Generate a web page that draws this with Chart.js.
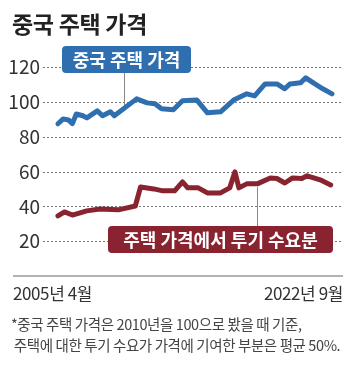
<!DOCTYPE html>
<html>
<head>
<meta charset="utf-8">
<script src="https://cdn.jsdelivr.net/npm/chart.js@4"></script>
<style>
  html, body { margin: 0; padding: 0; background: #fff; }
  #wrap { position: relative; width: 354px; height: 391px; overflow: hidden; }
  #myChart { position: absolute; left: 0; top: 0; }
  .txt { position: absolute; white-space: nowrap; color: #333;
         font-family: "Liberation Sans Narrow", "Noto Sans CJK KR", sans-serif; }
  #title { left: 12px; top: 6px; font: bold 23px "Noto Sans CJK KR", sans-serif; color: #222; letter-spacing: -0.3px; }
  #xl { left: 13px; top: 280px; font-size: 17px; letter-spacing: -0.4px; }
  #xr { right: 11px; top: 280px; font-size: 17px; letter-spacing: -0.4px; }
  #note { left: 11px; top: 313px; font-size: 14.5px; line-height: 21px; color: #444; letter-spacing: -0.4px; }
</style>
</head>
<body>
<div id="wrap">
  <canvas id="myChart" width="354" height="391"></canvas>
  <div class="txt" id="title">중국 주택 가격</div>
  <div class="txt" id="xl">2005년 4월</div>
  <div class="txt" id="xr">2022년 9월</div>
  <div class="txt" id="note">*중국 주택 가격은 2010년을 100으로 봤을 때 기준,<br>&nbsp;주택에 대한 투기 수요가 가격에 기여한 부분은 평균 50%.</div>
</div>
<script>
// months counted from 2005-04 (0) to 2022-09 (209)
var priceMonths = [0, 4, 8, 11, 14, 19, 22, 30, 34, 40, 43, 60, 68, 74, 79, 88, 95, 106, 114, 124, 134, 144, 150, 158, 167, 173, 177, 185, 189, 196, 202, 209];
var priceValues = [87.4, 90.2, 89.6, 87.5, 93, 92, 90.8, 94.8, 92, 94.3, 92, 101.7, 99.4, 98.9, 96, 95.4, 100.6, 101, 93.7, 94.3, 101, 104.6, 103.4, 110.3, 110.3, 107.5, 110.3, 110.9, 113.8, 110.3, 107.5, 104.6];

var specMonths = [0, 5, 11, 22, 32, 46, 59, 63, 73, 80, 89, 95, 99, 107, 114, 124, 131, 135, 138, 144, 152, 162, 167, 173, 179, 186, 190, 200, 208];
var specValues = [34.5, 36.8, 35, 37.4, 38.5, 38, 40.2, 51.1, 50, 48.9, 48.9, 54, 50.6, 50.6, 47.7, 47.7, 50.6, 59.8, 50.6, 52.9, 52.9, 56.3, 56, 53.4, 56.3, 56, 57.5, 55.2, 52.3];

var yTicks = [20, 40, 60, 80, 100, 120];
var seriesNames = ['중국 주택 가격', '주택 가격에서 투기 수요분'];

var blue = '#2f6fb0';
var red = '#8a2330';

function toPoints(xs, ys) {
  var pts = [];
  for (var i = 0; i < xs.length; i++) {
    pts.push({ x: xs[i], y: ys[i] });
  }
  return pts;
}

function roundRect(ctx, x, y, w, h, r) {
  ctx.beginPath();
  ctx.moveTo(x + r, y);
  ctx.lineTo(x + w - r, y);
  ctx.quadraticCurveTo(x + w, y, x + w, y + r);
  ctx.lineTo(x + w, y + h - r);
  ctx.quadraticCurveTo(x + w, y + h, x + w - r, y + h);
  ctx.lineTo(x + r, y + h);
  ctx.quadraticCurveTo(x, y + h, x, y + h - r);
  ctx.lineTo(x, y + r);
  ctx.quadraticCurveTo(x, y, x + r, y);
  ctx.closePath();
}

// dotted gridlines, zero line across the whole width, label boxes with callouts
var decorPlugin = {
  id: 'decor',
  beforeDatasetsDraw: function (chart) {
    var ctx = chart.ctx;
    var xs = chart.scales.x, ys = chart.scales.y;
    var area = chart.chartArea;
    ctx.save();
    // dotted grid
    ctx.strokeStyle = '#777';
    ctx.lineWidth = 1;
    ctx.setLineDash([2, 2]);
    ctx.beginPath();
    yTicks.forEach(function (v) {
      var y = Math.round(ys.getPixelForValue(v)) + 0.5;
      ctx.moveTo(area.left, y);
      ctx.lineTo(area.right, y);
    });
    ctx.stroke();
    ctx.setLineDash([]);
    // callouts
    ctx.strokeStyle = '#888';
    ctx.lineWidth = 1;
    ctx.beginPath();
    var bx = Math.round(xs.getPixelForValue(50)) + 0.5;
    ctx.moveTo(bx, 73);
    ctx.lineTo(bx, ys.getPixelForValue(96));
    var rx = Math.round(xs.getPixelForValue(152)) + 0.5;
    ctx.moveTo(rx, ys.getPixelForValue(51));
    ctx.lineTo(rx, 226);
    ctx.stroke();
    // zero line
    ctx.strokeStyle = '#999';
    ctx.lineWidth = 1.5;
    ctx.beginPath();
    var zy = ys.getPixelForValue(0);
    ctx.moveTo(13, zy);
    ctx.lineTo(343, zy);
    ctx.stroke();
    ctx.restore();
  },
  afterDatasetsDraw: function (chart) {
    var ctx = chart.ctx;
    ctx.save();
    ctx.font = 'bold 18px "Noto Sans CJK KR", sans-serif';
    ctx.textBaseline = 'middle';
    ctx.textAlign = 'center';
    // blue label
    ctx.fillStyle = blue;
    roundRect(ctx, 62, 46, 129, 27, 4);
    ctx.fill();
    ctx.fillStyle = '#fff';
    ctx.fillText(seriesNames[0], 126.5, 60);
    // red label
    ctx.fillStyle = red;
    roundRect(ctx, 108, 226, 225, 27, 4);
    ctx.fill();
    ctx.fillStyle = '#fff';
    ctx.fillText(seriesNames[1], 220.5, 240);
    ctx.restore();
  }
};

var ctx = document.getElementById('myChart').getContext('2d');
var myChart = new Chart(ctx, {
  type: 'line',
  data: {
    datasets: [
      {
        label: seriesNames[0],
        data: toPoints(priceMonths, priceValues),
        borderColor: blue,
        borderWidth: 5,
        pointRadius: 0,
        borderJoinStyle: 'round',
        borderCapStyle: 'round',
        tension: 0
      },
      {
        label: seriesNames[1],
        data: toPoints(specMonths, specValues),
        borderColor: red,
        borderWidth: 5,
        pointRadius: 0,
        borderJoinStyle: 'round',
        borderCapStyle: 'round',
        tension: 0
      }
    ]
  },
  options: {
    responsive: false,
    animation: false,
    layout: { padding: { top: 67, right: 11, bottom: 115, left: 0 } },
    plugins: {
      legend: { display: false },
      tooltip: { enabled: false }
    },
    scales: {
      x: {
        type: 'linear',
        min: -11.4,
        max: 217.4,
        display: false
      },
      y: {
        min: 0,
        max: 120,
        afterFit: function (scale) { scale.width = 43; },
        afterBuildTicks: function (scale) {
          scale.ticks = yTicks.map(function (v) { return { value: v }; });
        },
        border: { display: false },
        grid: { display: false, drawTicks: false },
        ticks: {
          padding: 3,
          color: '#333',
          font: { family: '"Liberation Sans Narrow", "Noto Sans CJK KR", sans-serif', size: 19 }
        }
      }
    }
  },
  plugins: [decorPlugin]
});
</script>
</body>
</html>
